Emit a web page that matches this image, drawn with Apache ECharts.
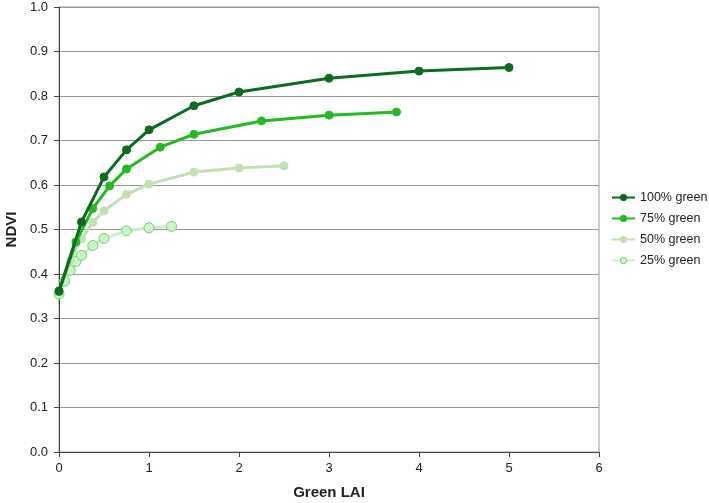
<!DOCTYPE html>
<html><head><meta charset="utf-8">
<script src="https://cdn.jsdelivr.net/npm/echarts@6/dist/echarts.min.js"></script>
<style>html,body{margin:0;padding:0;background:#fff}#c{width:709px;height:503px}</style>
</head><body><div id="c"></div>
<script>
const seriesNames = ['100% green', '75% green', '50% green', '25% green'];
const lai100 = [0, 0.25, 0.5, 0.75, 1, 1.5, 2, 3, 4, 5];
const ndvi100 = [0.362, 0.517, 0.618, 0.679, 0.724, 0.778, 0.809, 0.840, 0.856, 0.864];
const lai75 = [0, 0.1875, 0.375, 0.5625, 0.75, 1.125, 1.5, 2.25, 3.0, 3.75];
const ndvi75 = [0.36, 0.472, 0.547, 0.598, 0.636, 0.685, 0.714, 0.744, 0.757, 0.764];
const lai50 = [0, 0.125, 0.25, 0.375, 0.5, 0.75, 1, 1.5, 2, 2.5];
const ndvi50 = [0.36, 0.429, 0.479, 0.516, 0.542, 0.579, 0.602, 0.629, 0.638, 0.643];
const lai25 = [0, 0.0625, 0.125, 0.1875, 0.25, 0.375, 0.5, 0.75, 1, 1.25];
const ndvi25 = [0.355, 0.384, 0.408, 0.428, 0.442, 0.464, 0.480, 0.497, 0.504, 0.507];
const xTicks = [0, 1, 2, 3, 4, 5, 6];
const yTicks = [0, 0.1, 0.2, 0.3, 0.4, 0.5, 0.6, 0.7, 0.8, 0.9, 1.0];

const pair = (xs, ys) => xs.map((x, i) => [x, ys[i]]);
const font = 'Liberation Sans, Arial, sans-serif';
const styles = [
  {line: '#0b6b1e', fill: '#0b6b1e', border: '#0b6b1e', size: 8},
  {line: '#22bb22', fill: '#22bb22', border: '#22bb22', size: 8},
  {line: '#c3e0b5', fill: '#c3e0b5', border: '#c3e0b5', size: 8},
  {line: '#c6f2c6', fill: '#c9f5c9', border: '#6fd46f', size: 10}
];
const datas = [pair(lai100, ndvi100), pair(lai75, ndvi75), pair(lai50, ndvi50), pair(lai25, ndvi25)];

const chart = echarts.init(document.getElementById('c'), null, {renderer: 'canvas'});
chart.setOption({
  animation: false,
  backgroundColor: '#fff',
  grid: {left: 59, top: 7, right: 110, bottom: 51, show: true, borderColor: '#999', borderWidth: 1,
    containLabel: false, outerBoundsMode: 'none'},
  legend: {
    orient: 'vertical', left: 611, top: 191, padding: 0, itemGap: 8, itemWidth: 23, itemHeight: 8,
    textStyle: {fontFamily: font, fontSize: 12.5, color: '#222'},
    data: seriesNames.map((n, i) => ({name: n, itemStyle: {borderWidth: 1}}))
  },
  xAxis: {
    type: 'value', min: 0, max: 6, interval: 1,
    name: 'Green LAI', nameLocation: 'middle', nameGap: 33,
    nameTextStyle: {fontFamily: font, fontSize: 15, fontWeight: 'bold', color: '#222'},
    axisLine: {show: true, lineStyle: {color: '#444', width: 1}},
    axisTick: {show: true, length: 5, lineStyle: {color: '#444'}},
    axisLabel: {fontFamily: font, fontSize: 13, color: '#222', margin: 10,
      formatter: v => xTicks.includes(v) ? String(v) : ''},
    splitLine: {show: false}
  },
  yAxis: {
    type: 'value', min: 0, max: 1, interval: 0.1,
    name: 'NDVI', nameLocation: 'middle', nameGap: 39, nameRotate: 90,
    nameTextStyle: {fontFamily: font, fontSize: 15, fontWeight: 'bold', color: '#222'},
    axisLine: {show: true, lineStyle: {color: '#444', width: 1}},
    axisTick: {show: true, length: 5, lineStyle: {color: '#444'}},
    axisLabel: {fontFamily: font, fontSize: 13, color: '#222', margin: 11,
      formatter: v => { const t = yTicks.find(y => Math.abs(y - v) < 1e-6); return t === undefined ? '' : t.toFixed(1); }},
    splitLine: {show: true, lineStyle: {color: '#999', width: 1}}
  },
  series: seriesNames.map((n, i) => ({
    name: n, type: 'line', data: datas[i],
    symbol: 'circle', symbolSize: styles[i].size, showSymbol: true,
    lineStyle: {color: styles[i].line, width: 3},
    itemStyle: {color: styles[i].fill, borderColor: styles[i].border, borderWidth: 1},
    z: 10 - i
  }))
});
</script></body></html>
